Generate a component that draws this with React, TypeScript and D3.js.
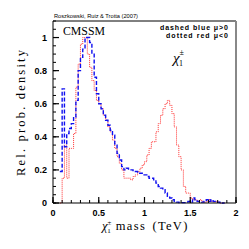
import React from "react";
import * as d3 from "d3";

// histogram bins: left edge (TeV), width 0.025
const binStart = 0.075;
const binWidth = 0.025;

const blueMuPos = [
  0.19, 0.69, 0.34, 0.42, 0.45, 0.48, 0.52, 0.62, 0.8, 0.88, 0.93, 1.0, 1.0, 0.97, 0.9, 0.76,
  0.66, 0.6, 0.57, 0.53, 0.5, 0.47, 0.44, 0.41, 0.35, 0.3, 0.26, 0.22, 0.2, 0.21, 0.2, 0.2,
  0.19, 0.19, 0.18, 0.18, 0.17, 0.17, 0.16, 0.15, 0.15, 0.14, 0.12, 0.1, 0.09, 0.08, 0.06, 0.04,
  0.03, 0.02, 0.01, 0.005, 0.003, 0.002, 0.002, 0.005, 0.01, 0.005, 0.03, 0.02, 0.01, 0.01, 0.005,
  0.01, 0.02, 0.01, 0.02, 0.01, 0.005, 0.005, 0.002, 0.0,
];

const redMuNeg = [
  0.0, 0.15, 0.35, 0.15, 0.33, 0.33, 0.42, 0.7, 0.84, 0.96, 1.0, 1.0, 0.9, 0.82, 0.74, 0.68,
  0.62, 0.6, 0.57, 0.53, 0.5, 0.46, 0.43, 0.38, 0.33, 0.28, 0.24, 0.2, 0.15, 0.15, 0.15, 0.14,
  0.16, 0.17, 0.19, 0.21, 0.23, 0.25, 0.29, 0.33, 0.37, 0.37, 0.43, 0.48, 0.53, 0.57, 0.6, 0.62,
  0.59, 0.54, 0.46, 0.35, 0.28, 0.2, 0.1, 0.06, 0.06, 0.03, 0.02, 0.02, 0.01, 0.02, 0.01, 0.005,
  0.01, 0.02, 0.01, 0.005, 0.01, 0.005, 0.0, 0.0,
];

const xTicks = [0, 0.5, 1, 1.5, 2];
const xTickLabels = ["0", "0.5", "1", "1.5", "2"];
const yTicks = [0, 0.2, 0.4, 0.6, 0.8, 1];
const yTickLabels = ["0", "0.2", "0.4", "0.6", "0.8", "1"];

const W = 249;
const H = 249;
const margin = { left: 53, right: 13, top: 21, bottom: 46 };

const App = () => {
  const x = d3.scaleLinear().domain([0, 2]).range([margin.left, W - margin.right]);
  const y = d3.scaleLinear().domain([0, 1.1]).range([H - margin.bottom, margin.top]);

  const stepPath = (vals: number[]) => {
    const pts: [number, number][] = vals.map((v, i) => [binStart + i * binWidth, v]);
    pts.push([binStart + vals.length * binWidth, vals[vals.length - 1]]);
    return d3
      .line<[number, number]>()
      .x((d) => x(d[0]))
      .y((d) => y(d[1]))
      .curve(d3.curveStepAfter)(pts);
  };

  const minorX = d3.range(0, 2.001, 0.1);
  const minorY = d3.range(0, 1.101, 0.05);
  const sans = "Liberation Sans, Arial, sans-serif";
  const serif = "Liberation Serif, Times New Roman, serif";

  return (
    <svg
      width={W}
      height={H}
      style={{ position: "absolute", left: 0, top: 0, background: "#fff" }}
    >
      {/* curves */}
      <path
        d={stepPath(redMuNeg) || ""}
        fill="none"
        stroke="#ff3030"
        strokeWidth={1}
        strokeDasharray="1,1"
      />
      <path
        d={stepPath(blueMuPos) || ""}
        fill="none"
        stroke="#1010f0"
        strokeWidth={1.4}
        strokeDasharray="4,2"
      />

      {/* frame */}
      <line x1={x(0)} x2={x(2)} y1={y(1.1)} y2={y(1.1)} stroke="#000" strokeWidth={1} />
      <line x1={x(0)} x2={x(0)} y1={y(1.1)} y2={y(0)} stroke="#000" strokeWidth={1} />
      <line x1={x(0)} x2={x(2)} y1={y(0)} y2={y(0)} stroke="#000" strokeWidth={1.2} />
      <line x1={x(2)} x2={x(2)} y1={y(1.1)} y2={y(0)} stroke="#888" strokeWidth={2} />

      {/* ticks */}
      {minorX.map((t) => (
        <line key={"mx" + t} x1={x(t)} x2={x(t)} y1={y(0)} y2={y(0) - 3} stroke="#000" />
      ))}
      {xTicks.map((t) => (
        <line key={"Mx" + t} x1={x(t)} x2={x(t)} y1={y(0)} y2={y(0) - 6} stroke="#000" strokeWidth={1.2} />
      ))}
      {minorY.map((t) => (
        <line key={"my" + t} x1={x(0)} x2={x(0) + 3} y1={y(t)} y2={y(t)} stroke="#000" />
      ))}
      {yTicks.map((t) => (
        <line key={"My" + t} x1={x(0)} x2={x(0) + 6} y1={y(t)} y2={y(t)} stroke="#000" strokeWidth={1.2} />
      ))}

      {/* tick labels */}
      {xTicks.map((t, i) => (
        <text
          key={"lx" + t}
          x={x(t)}
          y={y(0) + 12.5}
          textAnchor="middle"
          fontFamily={sans}
          fontWeight="bold"
          fontSize={9}
        >
          {xTickLabels[i]}
        </text>
      ))}
      {yTicks.map((t, i) => (
        <text
          key={"ly" + t}
          x={x(0) - 6}
          y={y(t) + 3.2}
          textAnchor="end"
          fontFamily={sans}
          fontWeight="bold"
          fontSize={9}
        >
          {yTickLabels[i]}
        </text>
      ))}

      {/* axis titles */}
      <text
        transform="translate(25,113) rotate(-90)"
        textAnchor="middle"
        fontFamily={serif}
        fontSize={12.5}
        textLength={126}
        lengthAdjust="spacing"
      >
        Rel. prob. density
      </text>
      <text x={102} y={230} fontFamily={serif} fontSize={12.5}>
        <tspan fontStyle="italic">χ</tspan>
        <tspan fontSize={7} dy={-5}>±</tspan>
        <tspan fontSize={7} dx={-4} dy={8}>1</tspan>
        <tspan dy={-3} dx={5} letterSpacing={1.3} wordSpacing={2}>mass (TeV)</tspan>
      </text>

      {/* annotations */}
      <text
        x={54}
        y={17.5}
        fontFamily={sans}
        fontSize={5.8}
        textLength={84}
        lengthAdjust="spacingAndGlyphs"
      >
        Roszkowski, Ruiz &amp; Trotta (2007)
      </text>
      <text
        x={63}
        y={35}
        fontFamily={serif}
        fontSize={12.5}
        textLength={42}
        lengthAdjust="spacingAndGlyphs"
      >
        CMSSM
      </text>
      <text
        x={228}
        y={30}
        textAnchor="end"
        fontFamily={sans}
        fontWeight="bold"
        fontSize={7}
        textLength={68}
        lengthAdjust="spacing"
      >
        dashed blue μ&gt;0
      </text>
      <text
        x={228}
        y={37.5}
        textAnchor="end"
        fontFamily={sans}
        fontWeight="bold"
        fontSize={7}
        textLength={62}
        lengthAdjust="spacing"
      >
        dotted red μ&lt;0
      </text>
      <text x={173} y={63} fontFamily={serif} fontSize={15}>
        <tspan fontStyle="italic">χ</tspan>
        <tspan fontSize={8} dy={-8}>±</tspan>
        <tspan fontSize={8} dx={-5} dy={11}>1</tspan>
      </text>
    </svg>
  );
};

export default App;
